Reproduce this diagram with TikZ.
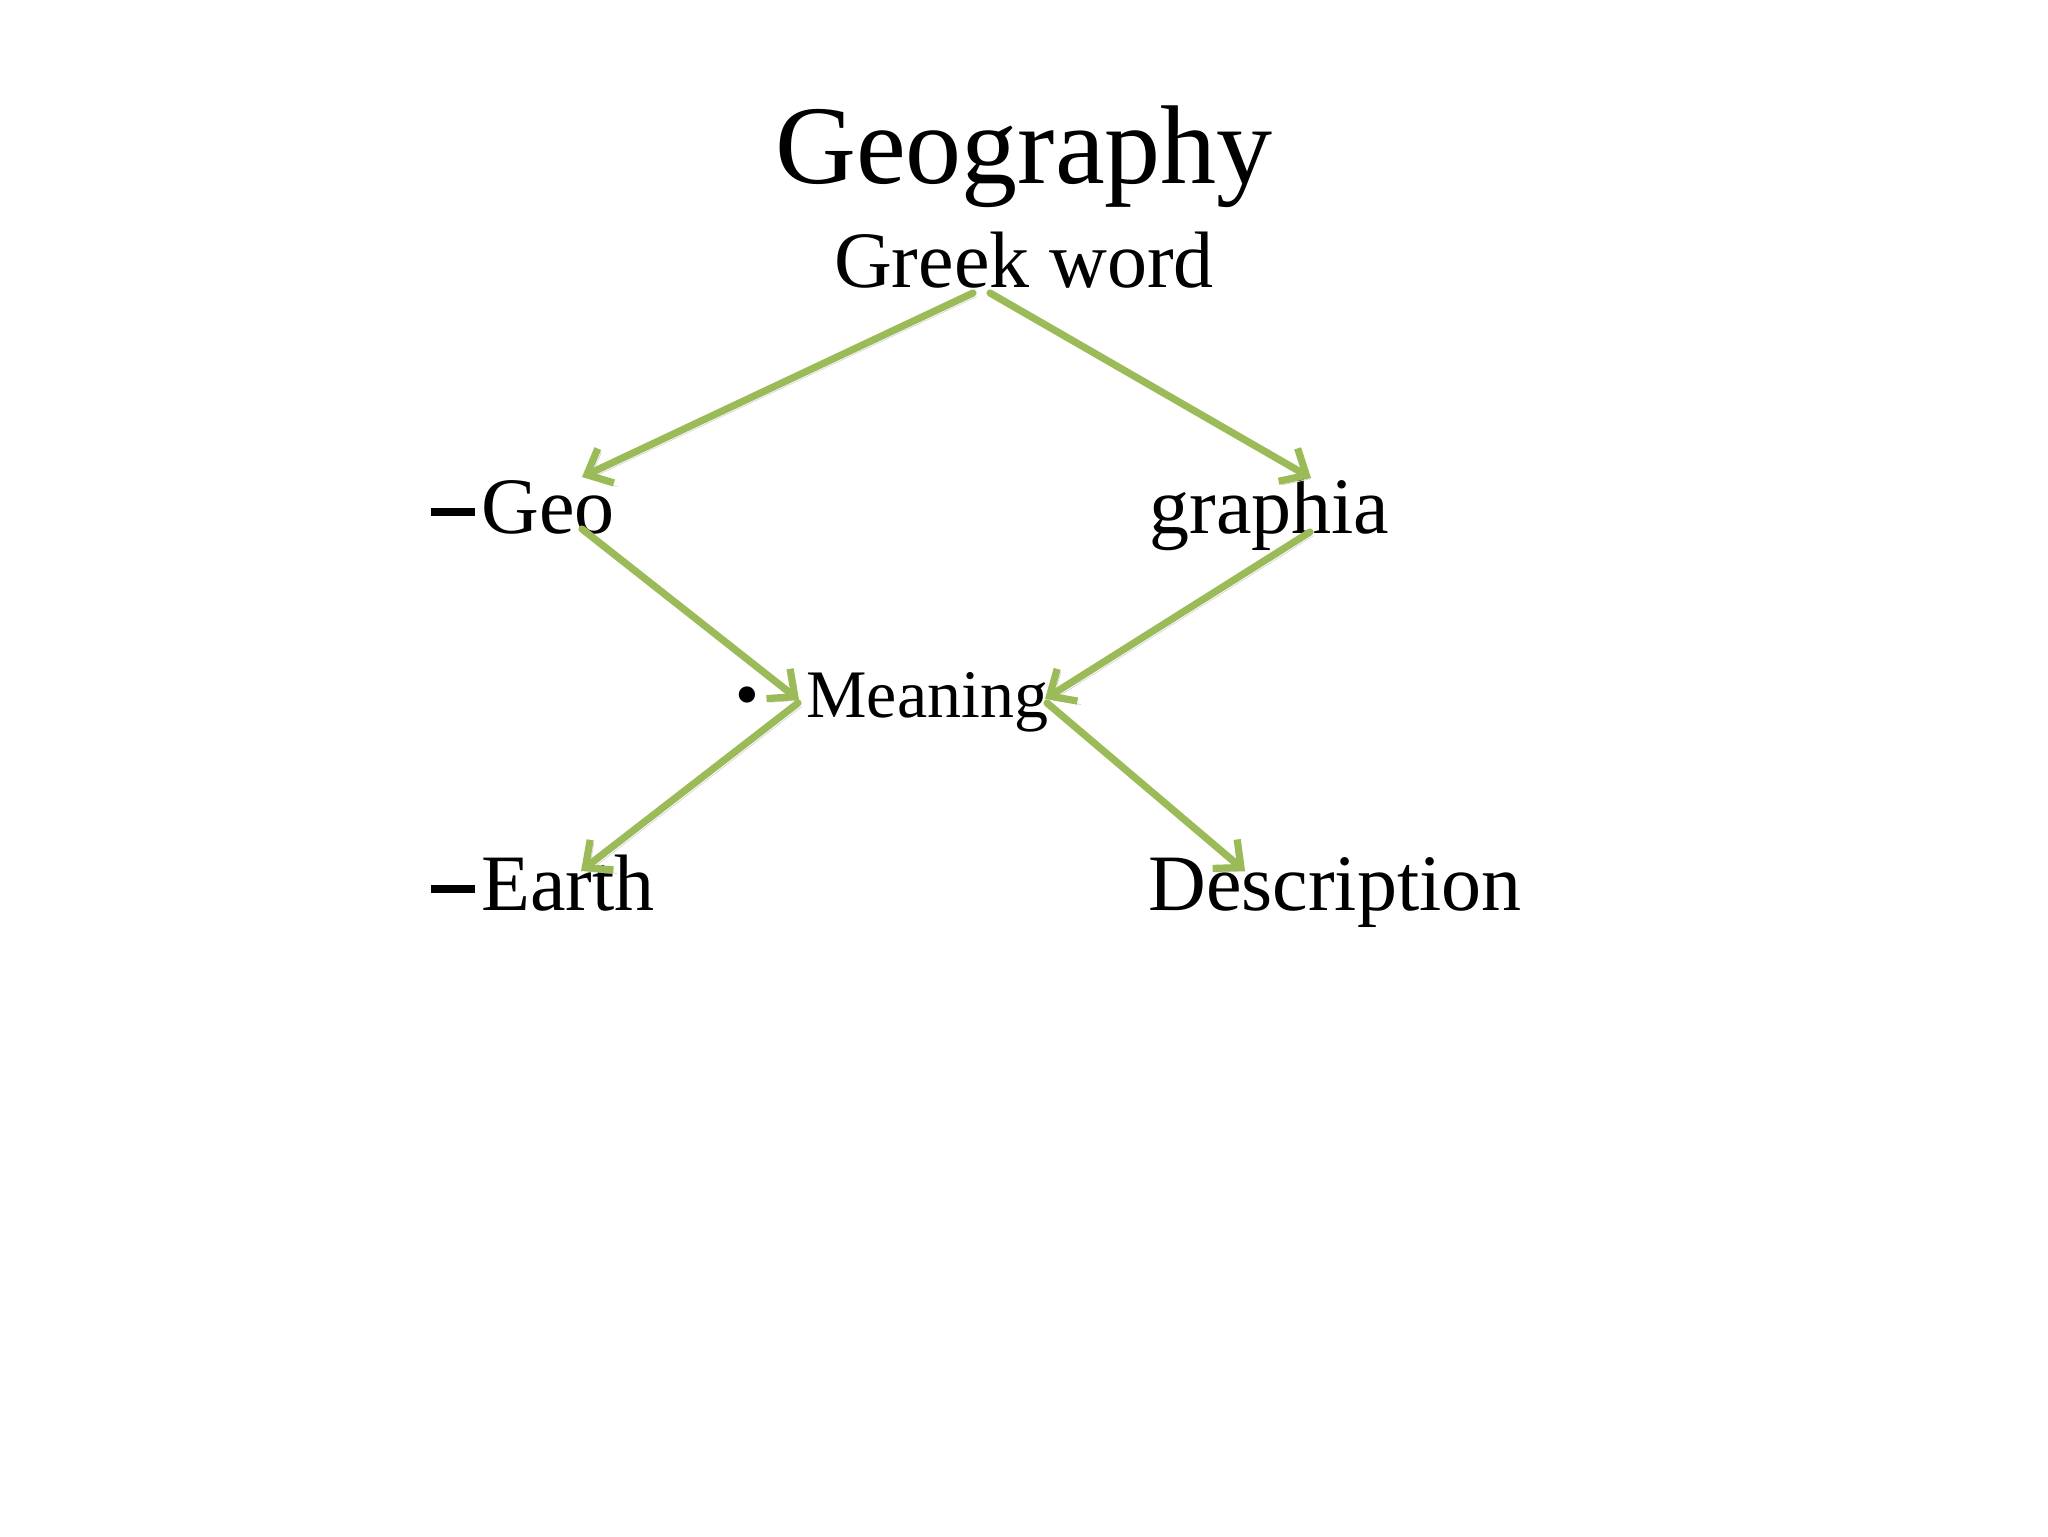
\documentclass[tikz,border=0pt]{standalone}
\usepackage{fontspec}
\setmainfont{Liberation Serif}
\usetikzlibrary{arrows.meta,calc}
\definecolor{arrgreen}{RGB}{155,187,89}
\newcommand{\bdash}{\rule[8.5pt]{22pt}{4.2pt}\kern3pt}
\tikzset{
  lbl/.style={inner sep=0pt, text=black},
  big/.style={lbl, font=\fontsize{56}{60}\selectfont},
  mid/.style={lbl, font=\fontsize{40}{44}\selectfont},
  small/.style={lbl, font=\fontsize{34}{38}\selectfont},
  link/.style={draw=arrgreen, line width=3.6pt, line cap=round,
    -{Straight Barb[length=10.5pt,width=19pt,line width=3.6pt]},
    preaction={draw=black!15, transform canvas={shift={(1.8pt,-1.8pt)}}}}
}
\begin{document}
\begin{tikzpicture}[x=0.5pt,y=-0.5pt]
\useasboundingbox[fill=white] (0,0) rectangle (2048,1536);
\node[big, anchor=base] (title) at (1024,183) {Geography};
\node[mid, anchor=base] (greek) at (1024,287) {Greek word};
\node[mid, anchor=base west] (geo) at (431,533) {\bdash Geo};
\node[mid, anchor=base west] (graphia) at (1149,533) {graphia};
\node[small, anchor=base] (bullet) at (747,717) {•};
\node[small, anchor=base west] (meaning) at (806,717) {Meaning};
\node[mid, anchor=base west] (earth) at (431,910) {\bdash Earth};
\node[mid, anchor=base west] (desc) at (1148,910) {Description};
\draw[link] ($(greek.base)+(-51,6)$) -- ($(geo.base west)+(151,-56)$);
\draw[link] ($(greek.base)+(-34,6)$) -- ($(graphia.base west)+(162,-55)$);
\draw[link] ($(geo.base west)+(151,-4)$) -- ($(meaning.base west)+(-7,-17)$);
\draw[link] ($(graphia.base west)+(161,-1)$) -- ($(meaning.base west)+(239,-18)$);
\draw[link] ($(meaning.base west)+(-8,-14)$) -- ($(earth.base west)+(150,-39)$);
\draw[link] ($(meaning.base west)+(241,-14)$) -- ($(desc.base west)+(97,-39)$);
\end{tikzpicture}
\end{document}
